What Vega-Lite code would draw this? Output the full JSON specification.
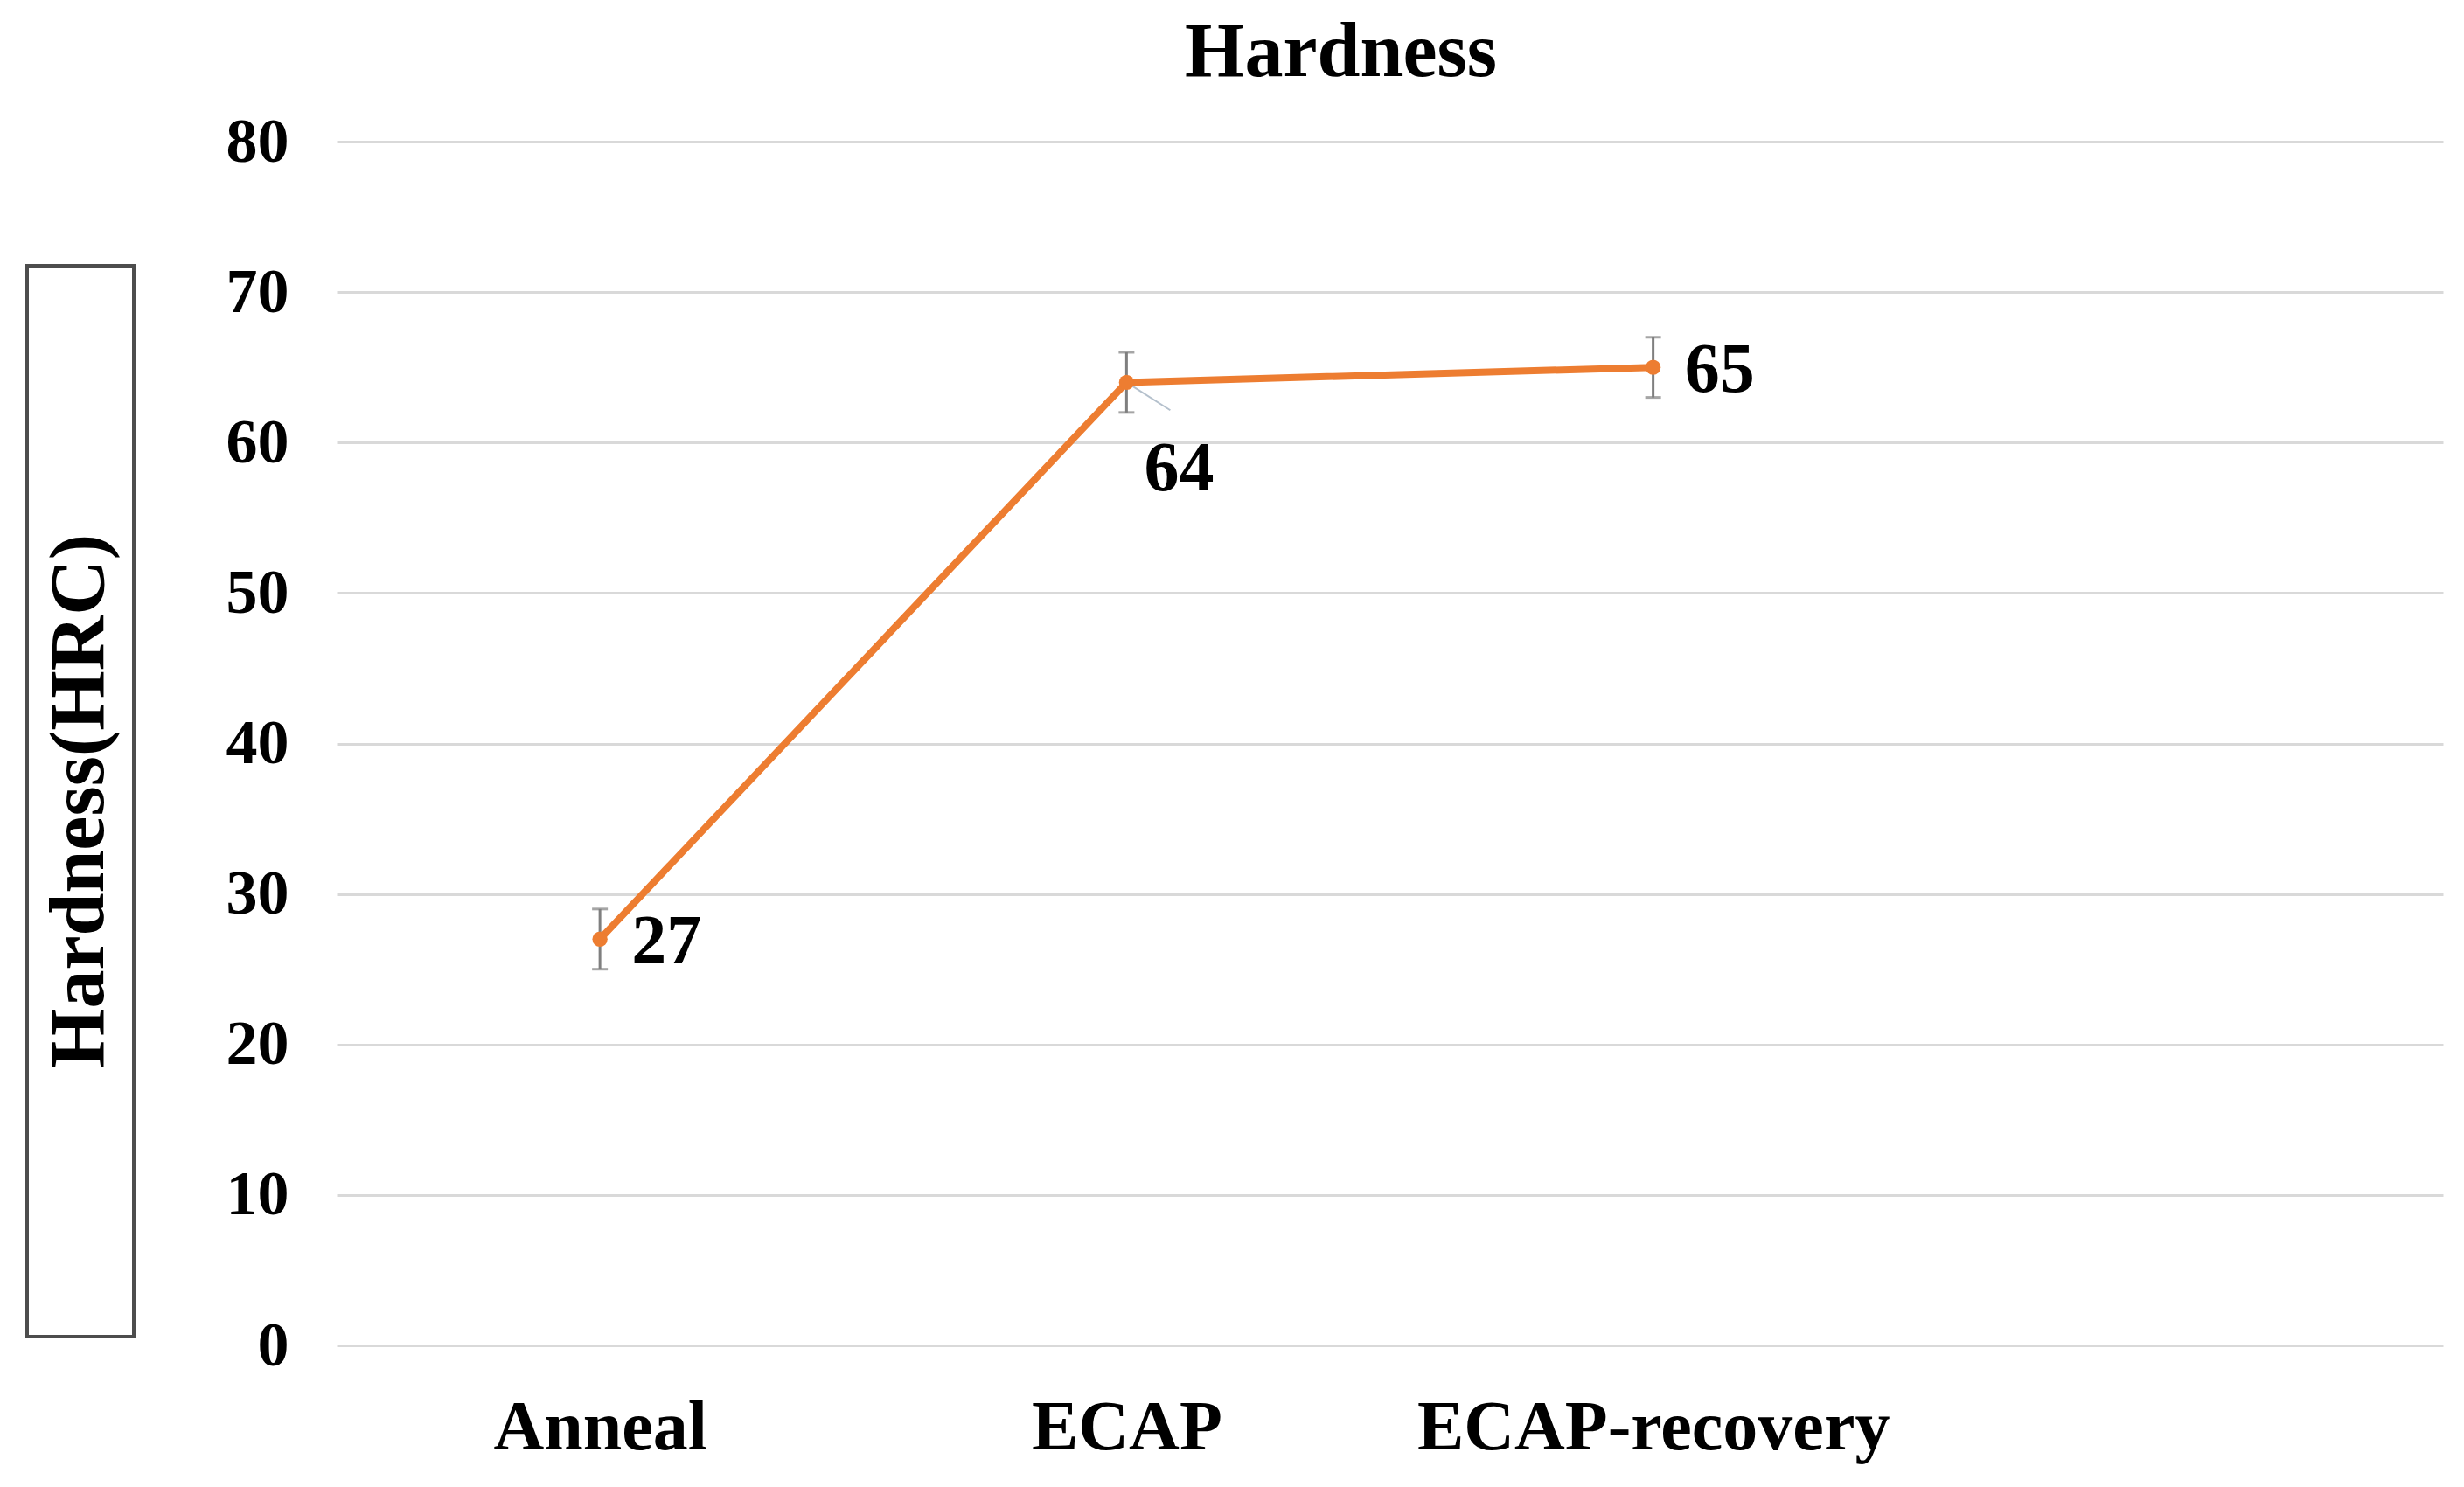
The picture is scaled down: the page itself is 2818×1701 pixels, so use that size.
{
  "$schema": "https://vega.github.io/schema/vega-lite/v6.json",
  "background": "white",
  "padding": {"left": 29, "top": 17, "right": 21, "bottom": 10},
  "title": {"text": "Hardness", "font": "Liberation Serif", "fontWeight": "bold", "fontSize": 88, "color": "black", "anchor": "middle", "dx": 122, "offset": 21},
  "center": true,
  "spacing": 103,
  "config": {"view": {"stroke": null}},
  "hconcat": [
    {
      "width": 122,
      "height": 1225,
      "view": {"stroke": "#4d4d4d", "strokeWidth": 4},
      "data": {"values": [{"t": "Hardness(HRC)"}]},
      "mark": {"type": "text", "angle": 270, "font": "Liberation Serif", "fontWeight": "bold", "fontSize": 88, "color": "black", "align": "center", "baseline": "middle"},
      "encoding": {"text": {"field": "t"}}
    },
    {
      "width": 2409,
      "height": 1377,
      "data": {"values": [
        {"cat": "Anneal", "hardness": 27, "lo": 25, "hi": 29, "label": "27", "pos": "right"},
        {"cat": "ECAP", "hardness": 64, "lo": 62, "hi": 66, "label": "64", "pos": "below"},
        {"cat": "ECAP-recovery", "hardness": 65, "lo": 63, "hi": 67, "label": "65", "pos": "right"}
      ]},
      "encoding": {
        "x": {"field": "cat", "type": "nominal", "sort": null,
          "scale": {"type": "point", "padding": 0.5, "domain": ["Anneal", "ECAP", "ECAP-recovery", " "]},
          "axis": {"title": null, "domain": false, "ticks": false, "grid": false, "labelAngle": 0, "labelLimit": 0,
            "labelFont": "Liberation Serif", "labelFontWeight": "bold", "labelFontSize": 80, "labelColor": "black", "labelPadding": 55}},
        "y": {"field": "hardness", "type": "quantitative",
          "scale": {"domain": [0, 80], "nice": false, "zero": true},
          "axis": {"title": null, "domain": false, "ticks": false, "grid": true, "gridColor": "#d9d9d9", "gridWidth": 3,
            "values": [0, 10, 20, 30, 40, 50, 60, 70, 80],
            "labelFont": "Liberation Serif", "labelFontWeight": "bold", "labelFontSize": 72, "labelColor": "black", "labelPadding": 55}}
      },
      "layer": [
        {"mark": {"type": "line", "color": "#ED7D31", "strokeWidth": 8}},
        {"mark": {"type": "rule", "color": "#7f7f7f", "strokeWidth": 3},
          "encoding": {"y": {"field": "lo", "type": "quantitative"}, "y2": {"field": "hi"}}},
        {"mark": {"type": "tick", "color": "#7f7f7f", "thickness": 3, "size": 18},
          "encoding": {"y": {"field": "lo", "type": "quantitative"}}},
        {"mark": {"type": "tick", "color": "#7f7f7f", "thickness": 3, "size": 18},
          "encoding": {"y": {"field": "hi", "type": "quantitative"}}},
        {"transform": [{"filter": "datum.pos === 'below'"}],
          "mark": {"type": "rule", "color": "#b4c0cc", "strokeWidth": 2, "x2Offset": 50},
          "encoding": {"x2": {"field": "cat"}, "y2": {"datum": 62.15}}},
        {"mark": {"type": "point", "filled": true, "opacity": 1, "color": "#ED7D31", "size": 300}},
        {"transform": [{"filter": "datum.pos === 'right'"}],
          "mark": {"type": "text", "align": "left", "baseline": "middle", "dx": 36, "dy": 4, "font": "Liberation Serif", "fontWeight": "bold", "fontSize": 80, "color": "black"},
          "encoding": {"text": {"field": "label"}}},
        {"transform": [{"filter": "datum.pos === 'below'"}],
          "mark": {"type": "text", "align": "center", "baseline": "middle", "dx": 60, "dy": 100, "font": "Liberation Serif", "fontWeight": "bold", "fontSize": 80, "color": "black"},
          "encoding": {"text": {"field": "label"}}}
      ]
    }
  ]
}
